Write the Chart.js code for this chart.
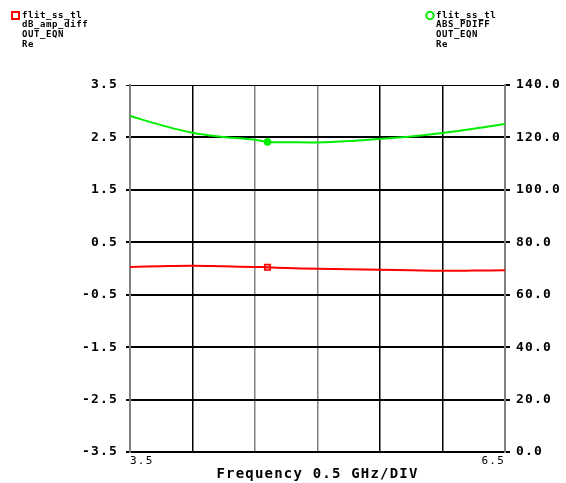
<!DOCTYPE html>
<html>
<head>
<meta charset="utf-8">
<script src="https://cdn.jsdelivr.net/npm/chart.js@4"></script>
<style>
  body { margin: 0; background: #fff; }
  #wrap { width: 566px; height: 483px; }
</style>
</head>
<body>
<div id="wrap"><canvas id="myChart" width="566" height="483"></canvas></div>
<script>
// values
const freq = [3.5, 3.75, 4.0, 4.25, 4.5, 4.6, 4.75, 5.0, 5.25, 5.5, 5.75, 6.0, 6.25, 6.5];
const dbAmpDiff = [0.029, 0.045, 0.053, 0.042, 0.029, 0.023, 0.01, -0.006, -0.015, -0.023, -0.033, -0.042, -0.04, -0.035];
const absPdiff = [128.2, 124.7, 121.8, 120.2, 119.1, 118.3, 118.2, 118.1, 118.6, 119.5, 120.4, 121.7, 123.3, 125.1];
const markerFreq = 4.6;
const leftTicks = [-3.5, -2.5, -1.5, -0.5, 0.5, 1.5, 2.5, 3.5];
const rightTicks = [0, 20, 40, 60, 80, 100, 120, 140];
const xTicks = [3.5, 4.0, 4.5, 5.0, 5.5, 6.0, 6.5];
const legendLeft = ["flit_ss_tl", "dB_amp_diff", "OUT_EQN", "Re"];
const legendRight = ["flit_ss_tl", "ABS_PDIFF", "OUT_EQN", "Re"];

const ctx = document.getElementById("myChart").getContext("2d");
const tickFont = { family: "DejaVu Sans Mono", size: 13, weight: "bold" };

const toPoints = (ys) => freq.map((f, i) => ({ x: f, y: ys[i] }));
const markerOnly = (r) => (c) => (c.raw && c.raw.x === markerFreq ? r : 0);

// spacing + header legend
const legendPlugin = {
  id: "hdr",
  beforeDraw(chart) {
    chart.ctx.letterSpacing = "1.2px";
  },
  afterDraw(chart) {
    const c = chart.ctx;
    c.save();
    c.letterSpacing = "0.6px";
    c.font = "bold 9px 'DejaVu Sans Mono'";
    c.fillStyle = "#000";
    c.textBaseline = "middle";
    legendLeft.forEach((t, i) => c.fillText(t, 22, 15.5 + i * 9.6));
    legendRight.forEach((t, i) => c.fillText(t, 436, 15.5 + i * 9.6));
    c.lineWidth = 2;
    c.strokeStyle = "#ff0000";
    c.strokeRect(12, 12, 7, 7);
    c.strokeStyle = "#00ee00";
    c.beginPath();
    c.arc(430, 15.5, 3.7, 0, Math.PI * 2);
    c.stroke();
    c.restore();
  },
};

const vGridColor = (c) => ([1, 4, 5].includes(c.index) ? "#000" : "#808080");

new Chart(ctx, {
  type: "line",
  data: {
    datasets: [
      {
        label: "dB_amp_diff",
        data: toPoints(dbAmpDiff),
        yAxisID: "y",
        borderColor: "#ff0000",
        borderWidth: 2,
        tension: 0.4,
        pointStyle: "rect",
        pointRadius: markerOnly(4),
        pointBackgroundColor: "rgba(255,0,0,0.35)",
        pointBorderColor: "#ff0000",
        pointBorderWidth: 1.5,
      },
      {
        label: "ABS_PDIFF",
        data: toPoints(absPdiff),
        yAxisID: "y2",
        borderColor: "#00ee00",
        borderWidth: 2,
        tension: 0.4,
        pointStyle: "circle",
        pointRadius: markerOnly(3.5),
        pointBackgroundColor: "#00ee00",
        pointBorderColor: "#00ee00",
        pointBorderWidth: 1,
      },
    ],
  },
  options: {
    responsive: false,
    animation: false,
    devicePixelRatio: 1,
    layout: { padding: { top: 85, left: 0, right: 0, bottom: 0 } },
    plugins: {
      legend: { display: false },
      tooltip: { enabled: false },
    },
    scales: {
      x: {
        type: "linear",
        min: 3.5,
        max: 6.5,
        afterBuildTicks: (s) => { s.ticks = xTicks.map((v) => ({ value: v })); },
        afterFit: (s) => { s.height = 31; },
        ticks: {
          align: "inner",
          padding: 3,
          maxRotation: 0,
          color: "#000",
          font: { family: "DejaVu Sans Mono", size: 11 },
          callback: (v) => (v === 3.5 || v === 6.5 ? v.toFixed(1) : ""),
        },
        grid: { color: vGridColor, lineWidth: 1.5, drawTicks: false },
        border: { display: false },
        title: {
          display: true,
          text: "Frequency 0.5 GHz/DIV",
          color: "#000",
          font: { family: "DejaVu Sans Mono", size: 14, weight: "bold" },
          padding: { top: 0, bottom: 0 },
        },
      },
      y: {
        position: "left",
        min: -3.5,
        max: 3.5,
        afterBuildTicks: (s) => { s.ticks = leftTicks.map((v) => ({ value: v })); },
        afterFit: (s) => { s.width = 130; },
        ticks: {
          color: "#000",
          font: tickFont,
          padding: 8,
          callback: (v) => v.toFixed(1),
        },
        grid: {
          color: "#000",
          lineWidth: (c) => (c.index === leftTicks.length - 1 ? 1 : 2),
          tickLength: 4,
        },
        border: { display: true, color: "#808080", width: 2 },
      },
      y2: {
        position: "right",
        min: 0,
        max: 140,
        afterBuildTicks: (s) => { s.ticks = rightTicks.map((v) => ({ value: v })); },
        afterFit: (s) => { s.width = 61; },
        ticks: {
          color: "#000",
          font: tickFont,
          padding: 6,
          callback: (v) => v.toFixed(1),
        },
        grid: { drawOnChartArea: false, color: "#000", lineWidth: 2, tickLength: 5 },
        border: { display: true, color: "#808080", width: 2 },
      },
    },
  },
  plugins: [legendPlugin],
});
</script>
</body>
</html>
